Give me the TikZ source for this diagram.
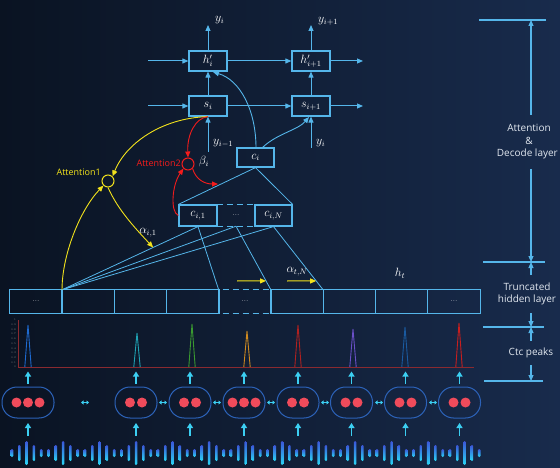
\documentclass[tikz,border=0pt]{standalone}
\usepackage{fontspec}
\newfontfamily\labelfont{Open Sans}
\usetikzlibrary{arrows.meta,calc}
\definecolor{bgL}{HTML}{0A1322}
\definecolor{bgR}{HTML}{182B4C}
\definecolor{lb}{HTML}{55B6EA}
\definecolor{cy}{HTML}{3CCFF2}
\definecolor{yl}{HTML}{F2E21C}
\definecolor{rd}{HTML}{F41C1C}
\definecolor{fbox}{HTML}{2C62B8}
\definecolor{dotc}{HTML}{F04B5B}
\definecolor{axc}{HTML}{8A2A30}
\definecolor{txt}{HTML}{E2E8F0}
\definecolor{wvT}{HTML}{3B55D8}
\definecolor{wvB}{HTML}{2AD8F6}
\definecolor{pkA}{HTML}{1E6AD0}
\definecolor{pkB}{HTML}{1FA2B4}
\definecolor{pkC}{HTML}{3A9A30}
\definecolor{pkD}{HTML}{D08A20}
\definecolor{pkE}{HTML}{B02020}
\definecolor{pkF}{HTML}{6A50C8}
\definecolor{pkG}{HTML}{1A5AA0}
\definecolor{pkH}{HTML}{C81E1E}
\tikzset{
  boxst/.style={draw=lb, line width=1.2pt, minimum width=38pt, minimum height=20pt, inner sep=0pt, text=white, font=\fontsize{12}{14}\selectfont},
  cellst/.style={minimum width=52.22pt, minimum height=23pt, inner sep=0pt, text=white, font=\fontsize{7}{8}\selectfont},
  cellline/.style={draw=lb, line width=1.2pt},
  flow/.style={draw=lb, line width=1pt, -{Triangle[length=6pt,width=5pt]}},
  fan/.style={draw=lb, line width=0.8pt},
  ycurve/.style={draw=yl, line width=0.9pt},
  rcurve/.style={draw=rd, line width=0.9pt},
  yarr/.style={-{Triangle[length=6pt,width=5pt]}},
  lbl/.style={text=white, font=\fontsize{12}{14}\selectfont, inner sep=0pt},
  sidetxt/.style={text=txt, font=\labelfont\fontsize{10}{12}\selectfont, inner sep=0pt},
  sidearr/.style={draw=lb, line width=1.1pt, -{Triangle[length=6pt,width=5pt]}},
  sideline/.style={draw=lb, line width=1.2pt},
  featst/.style={draw=fbox, line width=1pt, rounded corners=15pt, minimum height=31pt, inner sep=0pt},
  dotst/.style={circle, fill=dotc, minimum size=10pt, inner sep=0pt},
  cyarr/.style={draw=cy, line width=1.6pt, -{Triangle[length=5pt,width=6pt]}},
  dbl/.style={draw=cy, line width=1.2pt, {Triangle[length=2.5pt,width=4pt]}-{Triangle[length=2.5pt,width=4pt]}},
  tick/.style={text=gray, font=\fontsize{2.6}{3}\selectfont, inner sep=0pt, anchor=east}
}
\begin{document}
\begin{tikzpicture}[x=1pt,y=-1pt]
\useasboundingbox (0,0) rectangle (560,468);
\shade[left color=bgL, right color=bgR] (0,0) rectangle (560,468);

% decoder boxes
\node[boxst] (hp1) at (208,61) {$h'_i$};
\node[boxst] (hp2) at (311,61) {$h'_{i+1}$};
\node[boxst] (s1) at (208,106) {$s_i$};
\node[boxst] (s2) at (311,106) {$s_{i+1}$};
\node[boxst, minimum width=37pt, minimum height=19pt] (ci) at (255.5,157.5) {$c_i$};

\coordinate (inH) at (148,61);
\coordinate (outH) at (363,61);
\coordinate (inS) at (148,106);
\coordinate (outS) at (363,106);
\coordinate (yt1) at (208,25);
\coordinate (yt2) at (311,25);
\coordinate (yb1) at (208,152);
\coordinate (yb2) at (311,148);

\draw[flow] (inH) -- (hp1.west);
\draw[flow] (hp1.east) -- (hp2.west);
\draw[flow] (hp2.east) -- (outH);
\draw[flow] (inS) -- (s1.west);
\draw[flow] (s1.east) -- (s2.west);
\draw[flow] (s2.east) -- (outS);
\draw[flow] (s1.north) -- (hp1.south);
\draw[flow] (s2.north) -- (hp2.south);
\draw[flow] (hp1.north) -- (yt1);
\draw[flow] (hp2.north) -- (yt2);
\draw[flow] (yb1) -- (s1.south);
\draw[flow] (yb2) -- (s2.south);

\node[lbl, anchor=west] (ly1) at (215,20) {$y_i$};
\node[lbl, anchor=west] (ly2) at (318,21) {$y_{i+1}$};
\node[lbl, anchor=west] (lyb1) at (213,143) {$y_{i-1}$};
\node[lbl, anchor=west] (lyb2) at (316,143) {$y_i$};

% curves from c_i
\draw[flow, line width=0.9pt] (256,148) .. controls (256,110) and (240,80) .. (213,72);
\draw[flow, line width=0.9pt] (262,148) .. controls (276,134) and (298,130) .. (309,117);

% context boxes
\node[boxst, minimum height=21pt] (ci1) at (198,215.5) {$c_{i,1}$};
\node[minimum width=38pt, minimum height=21pt, inner sep=0pt, text=white, font=\fontsize{7}{8}\selectfont] (cdots) at (236,215.5) {...};
\node[boxst, minimum width=37pt, minimum height=21pt] (ciN) at (273.5,215.5) {$c_{i,N}$};
\draw[draw=lb, line width=1.2pt, dash pattern=on 6pt off 4pt] (cdots.north west) -- (cdots.north east);
\draw[draw=lb, line width=1.2pt, dash pattern=on 6pt off 4pt] (cdots.south west) -- (cdots.south east);
\draw[fan] (ci.south) -- (ci1.north west);
\draw[fan] (ci.south) -- (ciN.north east);

% hidden layer
\foreach \i in {1,...,9} {
  \node[cellst] (h\i) at ({10+26.11+52.222*(\i-1)},301.5) {};
}
\node[cellst] at (h1) {...};
\node[cellst] at (h5) {...};
\node[cellst] at (h9) {...};
\draw[cellline] (h1.north west) rectangle (h4.south east);
\foreach \i in {2,3,4} { \draw[cellline] (h\i.north west) -- (h\i.south west); }
\draw[cellline] (h6.north west) rectangle (h9.south east);
\foreach \i in {7,8,9} { \draw[cellline] (h\i.north west) -- (h\i.south west); }
\draw[draw=lb, line width=1.2pt, dash pattern=on 6pt off 4pt] ($(h5.north west)+(4,0)$) -- (h5.north east);
\draw[draw=lb, line width=1.2pt, dash pattern=on 6pt off 4pt] ($(h5.south west)+(4,0)$) -- (h5.south east);
\node[lbl] (lht) at (400,273) {$h_t$};

% fan lines
\draw[fan] (h2.north west) -- (ci1.south);
\draw[fan] (h2.north west) -- (cdots.south);
\draw[fan] (h2.north west) -- (ciN.south);
\draw[fan] (ci1.south) -- (h5.north west);
\draw[fan] (cdots.south) -- (h6.north west);
\draw[fan] (ciN.south) -- (h7.north west);

% attention circles
\node[circle, draw=yl, line width=1pt, minimum size=12pt, inner sep=0pt] (att1) at (108,181) {};
\node[circle, draw=rd, line width=1pt, minimum size=12pt, inner sep=0pt] (att2) at (188,164) {};
\node[text=yl, font=\labelfont\fontsize{9}{10}\selectfont, anchor=east, inner sep=0pt] (latt1) at (101,172) {Attention1};
\node[text=rd, font=\labelfont\fontsize{9}{10}\selectfont, anchor=east, inner sep=0pt] (latt2) at (181,163) {Attention2};
\node[lbl] (lbeta) at (204,162) {$\beta_i$};

% yellow curves
\draw[ycurve, yarr] (s1.south) .. controls (160,118) and (125,145) .. (att1.north east);
\draw[ycurve, yarr] (att1.south) .. controls (118,210) and (135,228) .. ($(h2.north west)!0.67!(ci1.south)$);
\draw[ycurve, yarr] (h2.north west) .. controls (62,255) and (80,210) .. (att1.south west);
\node[lbl] (la1) at (148,233) {$\alpha_{i,1}$};
\draw[draw=yl, line width=1pt, yarr] (237,281) -- ($(cdots.south)!0.86!(h6.north west)$);
\draw[draw=yl, line width=1pt, yarr] (287,281) -- ($(ciN.south)!0.86!(h7.north west)$);
\node[lbl] (laN) at (297,272) {$\alpha_{t,N}$};

% red curves
\draw[rcurve, yarr] (s1.south) .. controls (195,118) and (187,135) .. (att2.north);
\draw[rcurve, yarr] (ci1.west) .. controls (170,212) and (172,185) .. (att2.south west);
\draw[rcurve, yarr] (att2.south east) .. controls (196,180) and (205,184) .. (218,184);

% ctc chart
\coordinate (ax0) at (18,367);
\draw[draw=axc, line width=0.9pt] (18,320) -- (ax0) -- (474,367);
\foreach \k [count=\j from 0] in {1,0.9,0.8,0.7,0.6,0.5,0.4,0.3,0.2,0.1,0} {
  \node[tick] at (16,{320+4.7*\j}) {\k};
}
\foreach \x/\t/\c in {28/325/pkA,137/333/pkB,192/324/pkC,247/331/pkD,298/325/pkE,353/329/pkF,405/327/pkG,459/323/pkH} {
  \draw[draw=\c, line width=0.9pt] (\x-3.2,367) -- (\x,\t) -- (\x+3.2,367);
}

% feature boxes
\node[featst, minimum width=52pt] (f1) at (28,402.5) {};
\node[featst, minimum width=42pt] (f2) at (136,402.5) {};
\node[featst, minimum width=42pt] (f3) at (190,402.5) {};
\node[featst, minimum width=42pt] (f4) at (244,402.5) {};
\node[featst, minimum width=42pt] (f5) at (298,402.5) {};
\node[featst, minimum width=42pt] (f6) at (351.5,402.5) {};
\node[featst, minimum width=42pt] (f7) at (405.5,402.5) {};
\node[featst, minimum width=42pt] (f8) at (459.5,402.5) {};
\foreach \d in {-11.5,0,11.5} {
  \node[dotst] at ($(f1)+(\d,0)$) {};
  \node[dotst] at ($(f4)+(\d,0)$) {};
}
\foreach \f in {f2,f3,f5,f6,f7,f8} {
  \node[dotst] at ($(\f)+(-6,0)$) {};
  \node[dotst] at ($(\f)+(6,0)$) {};
}
\foreach \f in {f1,f2,f3,f4,f5,f6,f7,f8} {
  \draw[cyarr] ($(\f.north)+(0,-3)$) -- ($(\f.north)+(0,-15)$);
  \draw[cyarr] ($(\f.south)+(0,17)$) -- ($(\f.south)+(0,4.5)$);
}
\foreach \x in {85,163,217,271,325,379,433} {
  \draw[dbl] (\x-4,402.5) -- (\x+4,402.5);
}

% waveform
\foreach \i in {0,...,64} {
  \pgfmathtruncatemacro\m{mod(\i,5)}
  \pgfmathsetmacro\hh{4+4*(2-abs(\m-2))}
  \shade[top color=wvT, bottom color=wvB, rounded corners=1.2pt] ({12+7.3*\i-1.3},{453-\hh}) rectangle ({12+7.3*\i+1.3},{453+\hh});
}

% right side scale
\coordinate (r0) at (531,20);
\coordinate (r1) at (531,262);
\coordinate (r2) at (531,327);
\coordinate (r3) at (531,381);
\draw[sideline] (479,20) -- (546,20);
\draw[sideline] (483,262) -- (545,262);
\draw[sideline] (483,327) -- (544,327);
\draw[sideline] (484,381) -- (543,381);
\draw[sidearr] (531,115) -- (r0);
\draw[sidearr] (531,169) -- (r1);
\draw[sidearr] (531,275) -- (r1);
\draw[sidearr] (531,313) -- (r2);
\draw[sidearr] (531,341) -- (r2);
\draw[sidearr] (531,365) -- (r3);
\node[sidetxt] (t1) at (529,128) {Attention};
\node[sidetxt] (t2) at (529,141) {\&};
\node[sidetxt, anchor=east] (t3) at (558,154) {Decode layer};
\node[sidetxt] (t4) at (527,287) {Truncated};
\node[sidetxt] (t5) at (527,300) {hidden layer};
\node[sidetxt] (t6) at (531,353) {Ctc peaks};
\end{tikzpicture}
\end{document}
